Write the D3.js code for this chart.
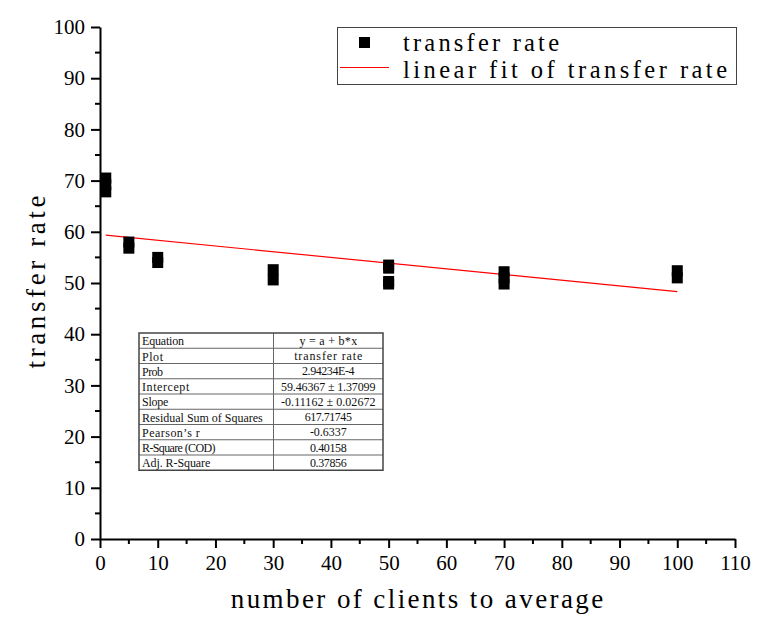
<!DOCTYPE html>
<html>
<head>
<meta charset="utf-8">
<script src="https://cdn.jsdelivr.net/npm/d3@7"></script>
<style>
  html, body { margin: 0; padding: 0; background: #fff; }
  svg { display: block; }
</style>
</head>
<body>
<svg id="chart" width="763" height="620"></svg>
<script>
// ---------- data ----------
const clients = [1, 1, 1, 5, 5, 10, 10, 30, 30, 50, 50, 50, 50, 70, 70, 70, 100, 100];
const transferRate = [70.5, 69.2, 67.8, 58.0, 56.8, 55.0, 54.0, 52.6, 50.6, 53.5, 52.9, 50.3, 49.8, 52.2, 51.0, 49.8, 52.4, 51.0];
const fitIntercept = 59.46367;
const fitSlope = -0.11162;
const fitRange = [1, 100];
const xTicks = [0, 10, 20, 30, 40, 50, 60, 70, 80, 90, 100, 110];
const yTicks = [0, 10, 20, 30, 40, 50, 60, 70, 80, 90, 100];
const tableLabels = ["Equation", "Plot", "Prob", "Intercept", "Slope", "Residual Sum of Squares", "Pearson’s r", "R-Square (COD)", "Adj. R-Square"];
const tableValues = ["y = a + b*x", "transfer rate", "2.94234E-4", "59.46367 ± 1.37099", "-0.11162 ± 0.02672", "617.71745", "-0.6337", "0.40158", "0.37856"];
const legendLabels = ["transfer rate", "linear fit of transfer rate"];
const xTitle = "number of clients to average";
const yTitle = "transfer rate";

// ---------- layout ----------
const svg = d3.select("#chart");
const x = d3.scaleLinear().domain([0, 110]).range([100, 735]);
const y = d3.scaleLinear().domain([0, 100]).range([539, 27]);
const mono = "'Liberation Serif', 'DejaVu Serif', serif";
const serif = "'Liberation Serif', 'DejaVu Serif', serif";

// emulate half-width CJK-font latin glyphs
function halfWidth(sel, size) {
  sel.each(function() {
    const t = d3.select(this);
    const n = [...t.text()].length;
    t.attr("textLength", n * size * 0.5).attr("lengthAdjust", "spacing");
  });
}

// ---------- axes ----------
const xAxis = d3.axisBottom(x).tickValues(xTicks).tickSize(9).tickSizeOuter(0).tickPadding(4);
const yAxis = d3.axisLeft(y).tickValues(yTicks).tickSize(9).tickSizeOuter(0).tickPadding(6);

const gx = svg.append("g").attr("transform", `translate(0,${y(0)})`).call(xAxis);
const gy = svg.append("g").attr("transform", `translate(${x(0)},0)`).call(yAxis);
[gx, gy].forEach(g => {
  g.select(".domain").attr("stroke", "#000").attr("stroke-width", 2);
  g.selectAll(".tick line").attr("stroke", "#000").attr("stroke-width", 2);
  g.selectAll(".tick text").attr("font-family", serif).attr("font-size", 21).attr("fill", "#000");
});
gx.selectAll(".tick text").attr("dy", "0.85em");

// minor ticks
const xMinor = d3.range(5, 110, 10);
const yMinor = d3.range(5, 100, 10);
svg.append("g").selectAll("line").data(xMinor).join("line")
  .attr("x1", d => x(d)).attr("x2", d => x(d))
  .attr("y1", y(0)).attr("y2", y(0) + 5)
  .attr("stroke", "#000").attr("stroke-width", 2);
svg.append("g").selectAll("line").data(yMinor).join("line")
  .attr("y1", d => y(d)).attr("y2", d => y(d))
  .attr("x1", x(0)).attr("x2", x(0) - 5)
  .attr("stroke", "#000").attr("stroke-width", 2);

// axis titles
svg.append("text").text(xTitle)
  .attr("x", 417).attr("y", 608).attr("text-anchor", "middle")
  .attr("font-family", mono).attr("font-size", 27).attr("fill", "#000")
  .call(halfWidth, 26.6);
svg.append("text").text(yTitle)
  .attr("transform", "translate(45,282) rotate(-90)")
  .attr("text-anchor", "middle")
  .attr("font-family", mono).attr("font-size", 27).attr("fill", "#000")
  .call(halfWidth, 26.6);

// ---------- fit line ----------
svg.append("line")
  .attr("x1", x(fitRange[0])).attr("y1", y(fitIntercept + fitSlope * fitRange[0]))
  .attr("x2", x(fitRange[1])).attr("y2", y(fitIntercept + fitSlope * fitRange[1]))
  .attr("stroke", "#ff0000").attr("stroke-width", 1.2);

// ---------- points ----------
const ms = 11;
svg.append("g").selectAll("rect").data(clients.map((c, i) => [c, transferRate[i]])).join("rect")
  .attr("x", d => x(d[0]) - ms / 2).attr("y", d => y(d[1]) - ms / 2)
  .attr("width", ms).attr("height", ms).attr("fill", "#000");

// ---------- legend ----------
const lg = svg.append("g");
lg.append("rect").attr("x", 337.5).attr("y", 27.5).attr("width", 399).attr("height", 57)
  .attr("fill", "#fff").attr("stroke", "#444").attr("stroke-width", 1);
lg.append("rect").attr("x", 359).attr("y", 37).attr("width", 11).attr("height", 11).attr("fill", "#000");
lg.append("line").attr("x1", 340).attr("x2", 389).attr("y1", 67.5).attr("y2", 67.5)
  .attr("stroke", "#ff0000").attr("stroke-width", 1.2);
lg.selectAll("text").data(legendLabels).join("text")
  .text(d => d)
  .attr("x", 403).attr("y", (d, i) => 51 + i * 27)
  .attr("font-family", mono).attr("font-size", 24.5).attr("fill", "#000")
  .call(halfWidth, 24);

// ---------- stats table ----------
const tx0 = 139, tx1 = 273.5, tx2 = 383, ty0 = 333, rowH = 15.25;
const tg = svg.append("g");
tableLabels.forEach((lab, i) => {
  const yy = ty0 + i * rowH;
  if (i > 0) {
    tg.append("line").attr("x1", tx0).attr("x2", tx2).attr("y1", yy).attr("y2", yy)
      .attr("stroke", "#666").attr("stroke-width", 1);
  }
  tg.append("text").text(lab).attr("x", tx0 + 3).attr("y", yy + 12.3)
    .attr("font-family", mono).attr("font-size", 12).attr("fill", "#111")
    .call(halfWidth, 10.5);
  tg.append("text").text(tableValues[i]).attr("x", (tx1 + tx2) / 2).attr("y", yy + 11.8)
    .attr("text-anchor", "middle")
    .attr("font-family", mono).attr("font-size", 12).attr("fill", "#111")
    .call(halfWidth, 10.5);
});
tg.append("line").attr("x1", tx1).attr("x2", tx1).attr("y1", ty0).attr("y2", ty0 + rowH * tableLabels.length)
  .attr("stroke", "#666").attr("stroke-width", 1);
tg.append("rect").attr("x", tx0).attr("y", ty0).attr("width", tx2 - tx0).attr("height", rowH * tableLabels.length)
  .attr("fill", "none").attr("stroke", "#444").attr("stroke-width", 1.5);
</script>
</body>
</html>
